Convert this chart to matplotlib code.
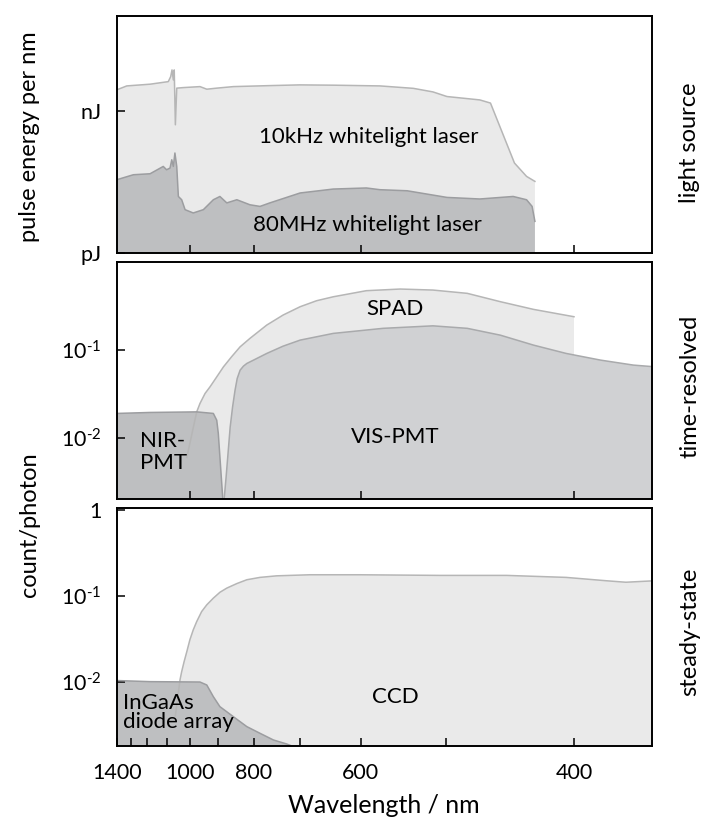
import numpy as np
import matplotlib
matplotlib.use("Agg")
import matplotlib.pyplot as plt
from matplotlib.ticker import FixedLocator, NullFormatter, FixedFormatter

plt.rcParams['font.family'] = ['Lato', 'DejaVu Sans']
plt.rcParams['mathtext.fontset'] = 'custom'
plt.rcParams['mathtext.rm'] = 'Lato'
plt.rcParams['mathtext.it'] = 'Lato:italic'
plt.rcParams['mathtext.bf'] = 'Lato:bold'

# ---------------- data ----------------
# light sources (pulse energy per nm, J)
laser10k_nm = [1400, 1327, 1184, 1092, 1081, 1075, 1069, 1065, 1060, 1054, 1026, 962, 938,
               905, 855, 762, 700, 641, 574, 534, 513, 499, 469, 460, 441, 432, 426]
laser10k_J = [2.75e-9, 3.33e-9, 3.62e-9, 4.10e-9, 5.22e-9, 7.23e-9, 4.46e-9, 7.23e-9, 5.06e-10,
              2.99e-9, 3.07e-9, 3.22e-9, 2.84e-9, 2.99e-9, 3.22e-9, 3.38e-9, 3.50e-9, 3.45e-9,
              3.33e-9, 2.96e-9, 2.49e-9, 1.99e-9, 1.69e-9, 1.45e-9, 7.93e-11, 4.15e-11, 3.26e-11]

laser80M_nm = [1400, 1283, 1184, 1116, 1100, 1084, 1076, 1069, 1062, 1054, 1047, 1033, 1019,
               987, 950, 916, 895, 874, 845, 810, 785, 762, 699, 641, 592, 574, 541, 499,
               469, 442, 432, 428, 426]
laser80M_J = [3.53e-11, 4.50e-11, 4.72e-11, 6.73e-11, 5.73e-11, 6.22e-11, 9.29e-11, 6.73e-11,
              1.29e-10, 6.73e-11, 1.57e-11, 1.34e-11, 8.28e-12, 7.06e-12, 8.28e-12, 1.34e-11,
              1.57e-11, 1.15e-11, 1.34e-11, 1.05e-11, 9.70e-12, 1.15e-11, 1.86e-11, 2.25e-11,
              2.37e-11, 2.18e-11, 2.07e-11, 1.50e-11, 1.39e-11, 1.57e-11, 1.34e-11, 9.70e-12,
              4.70e-12]

# time-resolved detectors (count/photon)
spad_nm = [1012, 974, 962, 944, 927, 905, 884, 860, 836, 810, 769, 733, 699, 669, 641,
           592, 549, 513, 480, 452, 427, 400]
spad_eff = [0.006, 0.0198, 0.0247, 0.0321, 0.0382, 0.0496, 0.0645, 0.0839, 0.109, 0.136,
            0.193, 0.251, 0.312, 0.365, 0.405, 0.475, 0.496, 0.483, 0.443, 0.356, 0.291, 0.240]

vispmt_nm = [882, 876, 864, 857, 850, 844, 836, 827, 818, 801, 769, 733, 699, 641, 570,
             513, 480, 452, 427, 405, 384, 366, 355]
vispmt_eff = [0.002, 0.00359, 0.0133, 0.0226, 0.0350, 0.0475, 0.0591, 0.0657, 0.0705, 0.0769,
              0.0917, 0.111, 0.130, 0.155, 0.177, 0.189, 0.177, 0.148, 0.114, 0.0917, 0.0769,
              0.0675, 0.0645]

nirpmt_nm = [1400, 1184, 974, 916, 905, 900, 886]
nirpmt_eff = [0.0190, 0.0195, 0.0198, 0.0190, 0.0159, 0.0112, 0.002]

# steady-state detectors (count/photon)
ccd_nm = [1060, 1040, 1033, 1023, 1012, 1000, 987, 974, 956, 938, 916, 895, 874, 845, 818,
          785, 747, 681, 601, 506, 447, 405, 381, 370, 355]
ccd_eff = [0.004, 0.0105, 0.0131, 0.0171, 0.0224, 0.0307, 0.0401, 0.0501, 0.0656, 0.0786,
           0.0940, 0.110, 0.123, 0.139, 0.154, 0.164, 0.171, 0.176, 0.176, 0.173, 0.173,
           0.164, 0.150, 0.144, 0.150]

ingaas_nm = [1400, 1184, 962, 938, 916, 895, 855, 818, 785, 754, 726, 712]
ingaas_eff = [0.0103, 0.0100, 0.0099, 0.00914, 0.00668, 0.00511, 0.00391, 0.00299,
              0.00250, 0.00209, 0.00188, 0.00175]

x_major = [1400, 1000, 800, 600, 400]
x_minor = [1300, 1200, 1100, 900, 700, 500]

# ---------------- style ----------------
LIGHT, LIGHT_E = '#eaeaea', '#b6b6b6'
MID, MID_E = '#d0d1d3', '#a9aaac'
DARK, DARK_E = '#bebfc1', '#9c9da0'
FS = 15.5
TFS = 16

W, H = 703, 818
fig = plt.figure(figsize=(W / 100, H / 100), dpi=100)

def rect(l, t, r, b):
    return [l / W, 1 - b / H, (r - l) / W, (b - t) / H]

ax1 = fig.add_axes(rect(116.7, 15.7, 651.7, 253.3))
ax2 = fig.add_axes(rect(116.7, 262.3, 651.7, 499.3))
ax3 = fig.add_axes(rect(116.7, 508.3, 651.7, 746.0))

def fwd(x):
    x = np.asarray(x, dtype=float)
    with np.errstate(divide='ignore', invalid='ignore'):
        return 1.0 / x

for ax in (ax1, ax2, ax3):
    ax.set_xscale('function', functions=(fwd, fwd))
    ax.set_yscale('log')
    ax.set_xlim(356.7, 1400)
    for s in ax.spines.values():
        s.set_linewidth(1.4)
    ax.tick_params(axis='both', which='both', direction='in', length=5.5, width=1.1,
                   labelsize=FS, pad=11, top=False, right=False)
    ax.xaxis.set_major_locator(FixedLocator([1000, 800, 600, 400]))
    ax.xaxis.set_minor_locator(FixedLocator([]))
    ax.xaxis.set_major_formatter(NullFormatter())
    ax.yaxis.set_minor_locator(FixedLocator([]))

def area(ax, x, y, fc, ec, base):
    ax.fill_between(x, base, y, facecolor=fc, edgecolor='none', lw=0)
    ax.plot(x, y, color=ec, lw=1.1, solid_joinstyle='round')

HY = '\u2010'
lab1 = r'$10^{' + HY + r'1}$'
lab2 = r'$10^{' + HY + r'2}$'

# top panel
ylo1, yhi1 = 1e-12, 1e-7
ax1.set_ylim(ylo1, yhi1)
area(ax1, laser10k_nm, laser10k_J, LIGHT, LIGHT_E, ylo1)
area(ax1, laser80M_nm, laser80M_J, DARK, DARK_E, ylo1)
ax1.yaxis.set_major_locator(FixedLocator([1e-12, 1e-9]))
ax1.yaxis.set_major_formatter(FixedFormatter(['pJ', 'nJ']))
ax1.text(0.472, 0.49, '10kHz whitelight laser', transform=ax1.transAxes,
         ha='center', va='center', fontsize=TFS)
ax1.text(0.469, 0.118, '80MHz whitelight laser', transform=ax1.transAxes,
         ha='center', va='center', fontsize=TFS)

# middle panel
ylo2, yhi2 = 0.002, 1.0
ax2.set_ylim(ylo2, yhi2)
area(ax2, spad_nm, spad_eff, LIGHT, LIGHT_E, ylo2)
area(ax2, vispmt_nm, vispmt_eff, MID, MID_E, ylo2)
area(ax2, nirpmt_nm, nirpmt_eff, DARK, DARK_E, ylo2)
ax2.yaxis.set_major_locator(FixedLocator([1e-2, 1e-1]))
ax2.yaxis.set_major_formatter(FixedFormatter([lab2, lab1]))
ax2.text(0.520, 0.805, 'SPAD', transform=ax2.transAxes, ha='center', va='center', fontsize=TFS)
ax2.text(0.520, 0.262, 'VIS-PMT', transform=ax2.transAxes, ha='center', va='center', fontsize=TFS)
ax2.text(0.044, 0.200, 'NIR-\nPMT', transform=ax2.transAxes, ha='left', va='center',
         fontsize=TFS, linespacing=1.1)

# bottom panel
ylo3, yhi3 = 10 ** -2.75, 10 ** 0.02
ax3.set_ylim(ylo3, yhi3)
area(ax3, ccd_nm, ccd_eff, LIGHT, LIGHT_E, ylo3)
area(ax3, ingaas_nm, ingaas_eff, DARK, DARK_E, ylo3)
ax3.yaxis.set_major_locator(FixedLocator([1e-2, 1e-1, 1]))
ax3.yaxis.set_major_formatter(FixedFormatter([lab2, lab1, '1']))
ax3.xaxis.set_major_locator(FixedLocator(x_major))
ax3.xaxis.set_minor_locator(FixedLocator(x_minor))
ax3.xaxis.set_major_formatter(FixedFormatter([str(v) for v in x_major]))
ax3.xaxis.set_minor_formatter(NullFormatter())
ax3.tick_params(axis='x', which='major', pad=12)
ax3.text(0.52, 0.205, 'CCD', transform=ax3.transAxes, ha='center', va='center', fontsize=TFS)
ax3.text(0.012, 0.14, 'InGaAs\ndiode array', transform=ax3.transAxes, ha='left', va='center',
         fontsize=TFS, linespacing=0.95)
ax3.set_xlabel('Wavelength / nm', fontsize=FS + 2.5, labelpad=8)

# side labels
SFS = FS + 1.5
fig.text(30 / W, 1 - 137 / H, 'pulse energy per nm', rotation=90, ha='center', va='center', fontsize=SFS)
fig.text(30 / W, 1 - 525 / H, 'count/photon', rotation=90, ha='center', va='center', fontsize=SFS)
fig.text(690 / W, 1 - 143 / H, 'light source', rotation=90, ha='center', va='center', fontsize=SFS)
fig.text(690 / W, 1 - 386 / H, 'time-resolved', rotation=90, ha='center', va='center', fontsize=SFS)
fig.text(690 / W, 1 - 632 / H, 'steady-state', rotation=90, ha='center', va='center', fontsize=SFS)

fig.savefig('out.png', dpi=100)
